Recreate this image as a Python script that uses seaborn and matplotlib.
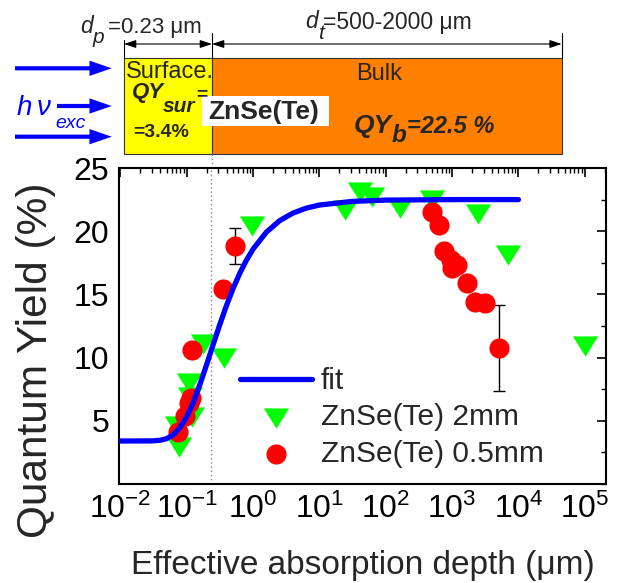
import numpy as np
import pandas as pd
import matplotlib
matplotlib.use("Agg")
import matplotlib.pyplot as plt
from matplotlib.path import Path
from matplotlib.patches import Rectangle
from matplotlib import ticker
import seaborn as sns

# ---------------- data ----------------
green_x = [0.076, 0.072, 0.12, 0.112, 0.11, 0.174, 0.363, 0.955, 24.5, 40.7, 61.7, 166, 490, 2450, 7080, 100000]
green_y = [2.95, 4.6, 5.3, 6.9, 8.0, 11.1, 10.0, 20.4, 21.7, 23.1, 22.7, 21.8, 22.5, 21.4, 18.1, 10.9]

red_x = [0.073, 0.094, 0.108, 0.115, 0.12, 0.352, 0.54, 490, 646, 760, 955, 1000, 1175, 1660, 2240, 3160, 5010]
red_y = [4.1, 5.4, 6.4, 6.8, 10.6, 15.4, 18.85, 21.5, 20.5, 18.4, 17.7, 17.1, 17.3, 15.9, 14.4, 14.3, 10.76]

err_x = [0.54, 5010]
err_y = [18.85, 10.76]
err_v = [1.42, 3.42]

fit_x = [0.0095, 0.03, 0.04, 0.05, 0.063, 0.079, 0.1, 0.126, 0.158, 0.2, 0.251, 0.316, 0.398, 0.5,
         0.631, 0.794, 1.0, 1.585, 2.512, 3.98, 6.31, 10, 31.6, 100, 1000, 10000]
fit_y = [3.4, 3.41, 3.46, 3.59, 3.90, 4.45, 5.31, 6.46, 7.86, 9.45, 11.04, 12.62, 14.12, 15.46,
         16.67, 17.70, 18.58, 19.92, 20.83, 21.43, 21.82, 22.07, 22.36, 22.46, 22.5, 22.5]

dp = 0.23
x_ticks = [1e-2, 1e-1, 1e0, 1e1, 1e2, 1e3, 1e4, 1e5]
y_ticks = [5, 10, 15, 20, 25]

# ---------------- style ----------------
sns.set_style("white")
plt.rcParams['font.family'] = ['Liberation Sans', 'DejaVu Sans']
plt.rcParams['mathtext.fontset'] = 'custom'
plt.rcParams['mathtext.rm'] = 'Liberation Sans'
plt.rcParams['mathtext.it'] = 'Liberation Sans:italic'
plt.rcParams['mathtext.bf'] = 'Liberation Sans:bold'

W, H = 622, 583
fig = plt.figure(figsize=(W / 100, H / 100), dpi=100)
ax = fig.add_axes([119 / W, 1 - 484 / H, (606 - 119) / W, (484 - 168) / H])

ax.set_xscale('log')

green_df = pd.DataFrame({'x': green_x, 'y': green_y})
red_df = pd.DataFrame({'x': red_x, 'y': red_y})
fit_df = pd.DataFrame({'x': fit_x, 'y': fit_y})

tri = Path([(-1.0, 0.8), (1.0, 0.8), (0.0, -0.8), (-1.0, 0.8)],
           [Path.MOVETO, Path.LINETO, Path.LINETO, Path.CLOSEPOLY])

ax.axvline(dp, color='#888888', ls=(0, (1, 2)), lw=1.0, zorder=1)

sns.scatterplot(data=green_df, x='x', y='y', ax=ax, marker=tri, s=330, color='#00FF00',
                linewidth=0, zorder=3, label='ZnSe(Te) 2mm', legend=False)
ax.errorbar(err_x, err_y, yerr=err_v, fmt='none', ecolor='black', elinewidth=1.0,
            capsize=4, capthick=1.0, zorder=3.5)
sns.scatterplot(data=red_df, x='x', y='y', ax=ax, marker='o', s=210, color='#FF0000',
                linewidth=0, zorder=4, label='ZnSe(Te) 0.5mm', legend=False)
sns.lineplot(data=fit_df, x='x', y='y', ax=ax, color='#0000FF', lw=3.8, sort=False,
             estimator=None, zorder=5, label='fit', legend=False)

ax.set_xlim(10 ** -2.02, 10 ** 5.32)
ax.set_ylim(0, 25)
ax.set_yticks(y_ticks)
ax.yaxis.set_minor_locator(ticker.MultipleLocator(2.5))
ax.set_xticks(x_ticks)
ax.xaxis.set_minor_locator(ticker.LogLocator(base=10, subs=np.arange(2, 10), numticks=20))
ax.xaxis.set_major_formatter(ticker.LogFormatterMathtext())

for sp in ax.spines.values():
    sp.set_linewidth(1.5)
    sp.set_color('black')
ax.tick_params(which='both', direction='in', top=True, right=True, colors='black')
ax.tick_params(which='major', length=6.5, width=1.2, labelsize=23, pad=7)
ax.tick_params(which='minor', length=3.5, width=1.0)

ax.set_xlabel('Effective absorption depth (μm)', fontsize=24, labelpad=18)
ax.set_ylabel('Quantum Yield (%)', fontsize=30.5)
ax.yaxis.set_label_coords(-0.13, 0.392)

handles, labels = ax.get_legend_handles_labels()
order = ['fit', 'ZnSe(Te) 2mm', 'ZnSe(Te) 0.5mm']
hmap = dict(zip(labels, handles))
leg = ax.legend([hmap[k] for k in order], order, loc='upper left',
                bbox_to_anchor=(240 / W, 1 - 367 / H), bbox_transform=fig.transFigure,
                frameon=False, fontsize=21.5, handlelength=2.4, handletextpad=0.3,
                labelspacing=0.28, borderpad=0, borderaxespad=0)

# ---------------- schematic (pixel coordinates overlay) ----------------
ov = fig.add_axes([0, 0, 1, 1], zorder=-1)
ov.set_xlim(0, W)
ov.set_ylim(H, 0)
ov.axis('off')

ov.add_patch(Rectangle((124, 57.7), 88, 96.3, facecolor='#FFFF00', edgecolor='#333333', lw=0.8))
ov.add_patch(Rectangle((212, 57.7), 349.7, 96.3, facecolor='#FF8000', edgecolor='#333333', lw=0.8))
ov.plot([212, 212], [154, 168], color='#888888', ls=(0, (1, 2)), lw=1.0)

# dimension lines
for x0, y0 in [(124, 40), (212, 33), (561.7, 33)]:
    ov.plot([x0, x0], [y0, 57.7], color='black', lw=0.8)
for xa, xb in [(124, 212), (212, 561.7)]:
    ov.annotate('', xy=(xa, 44), xytext=(xb, 44),
                arrowprops=dict(arrowstyle='<|-|>,head_length=0.6,head_width=0.2',
                                color='black', lw=0.8, mutation_scale=12,
                                shrinkA=0, shrinkB=0))

ov.text(80, 33, 'd', fontsize=16.5, style='italic', va='baseline')
ov.text(93, 43, 'p', fontsize=15, style='italic', va='baseline')
ov.text(108, 33, '=0.23 μm', fontsize=16, va='baseline')
ov.text(305, 28.5, 'd', fontsize=16.5, style='italic', va='baseline')
ov.text(318.5, 39, 't', fontsize=15, style='italic', va='baseline')
ov.text(323, 28.5, '=500-2000 μm', fontsize=16.5, va='baseline')

ov.text(126, 78, 'Surface.', fontsize=17, va='baseline')
ov.text(356, 80, 'Bulk', fontsize=17, va='baseline')
ov.text(132, 98, 'QY', fontsize=16, style='italic', weight='bold', va='baseline')
ov.text(163, 112, 'sur', fontsize=15, style='italic', weight='bold', va='baseline')
ov.text(196, 99, '=', fontsize=14, weight='bold', va='baseline')
ov.text(133, 137, '=3.4%', fontsize=14, weight='bold', va='baseline')

ov.add_patch(Rectangle((201.7, 95.7), 127.6, 30.3, facecolor='white', edgecolor='none'))
ov.text(208, 119, 'ZnSe(Te)', fontsize=19, weight='bold', va='baseline')

ov.text(354, 133, 'QY', fontsize=19, style='italic', weight='bold', va='baseline')
ov.text(392, 142, 'b', fontsize=17.5, style='italic', weight='bold', va='baseline')
ov.text(407, 133, '=22.5 %', fontsize=17, style='italic', weight='bold', va='baseline')

# excitation arrows
for x0, y0 in [(15, 68.3), (57, 106), (15, 136.7)]:
    ov.annotate('', xy=(111.7, y0), xytext=(x0, y0),
                arrowprops=dict(arrowstyle='simple,head_length=0.8,head_width=0.55,tail_width=0.15',
                                color='#0000FF', lw=0, mutation_scale=20,
                                shrinkA=0, shrinkB=0))
ov.text(17, 115, 'h', fontsize=20, style='italic', color='#0000FF', va='baseline')
ov.text(37, 115, 'ν', fontsize=20, style='italic', color='#0000FF', va='baseline')
ov.text(55, 128, 'exc', fontsize=14, style='italic', color='#0000FF', va='baseline')

fig.savefig('out.png', dpi=100)
